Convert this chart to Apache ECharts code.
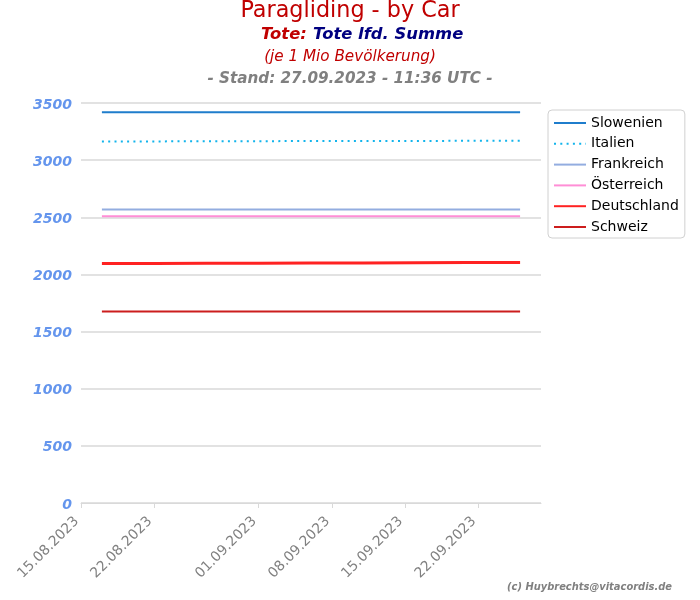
<!DOCTYPE html>
<html><head><meta charset="utf-8">
<script src="https://cdn.jsdelivr.net/npm/echarts@6/dist/echarts.min.js"></script>
<style>html,body{margin:0;padding:0;background:#fff}#c{width:700px;height:600px}</style>
</head><body><div id="c"></div>
<script>
const dates = ['2023-08-17','2023-08-22','2023-08-27','2023-09-01','2023-09-06','2023-09-11','2023-09-16','2023-09-21','2023-09-26'];
const tickDates = ['2023-08-15','2023-08-22','2023-09-01','2023-09-08','2023-09-15','2023-09-22'];
const seriesNames = ['Slowenien','Italien','Frankreich','Österreich','Deutschland','Schweiz'];
const slowenien   = [3418,3418,3418,3418,3418,3418,3418,3418,3418];
const italien     = [3164,3164,3165,3166,3167,3167,3168,3169,3170];
const frankreich  = [2569,2569,2569,2569,2569,2569,2569,2569,2569];
const oesterreich = [2508,2508,2508,2508,2508,2508,2508,2508,2508];
const deutschland = [2096,2096,2097,2098,2099,2100,2102,2104,2105];
const schweiz     = [1676,1676,1676,1676,1676,1676,1676,1676,1676];

const ts = d => { const [y,m,dd] = d.split('-').map(Number); return Date.UTC(y,m-1,dd); };
const pad = n => (n<10?'0':'')+n;
const fmt = v => { const d = new Date(v); return pad(d.getUTCDate())+'.'+pad(d.getUTCMonth()+1)+'.'+d.getUTCFullYear(); };

const values = [slowenien, italien, frankreich, oesterreich, deutschland, schweiz];
const colors = ['#1f7dcc','#12b4ec','#93ade0','#ff8ed6','#ff2222','#cc1d1d'];
const widths = [2,2,2,2,3,2];
const types  = ['solid',[2,4.3],'solid','solid','solid','solid'];

const chart = echarts.init(document.getElementById('c'));
const F = 'DejaVu Sans';
chart.setOption({
  animation:false,
  textStyle:{fontFamily:F},
  title:[
    {text:'Paragliding - by Car', left:'center', top:0, padding:0,
     textStyle:{fontFamily:F, fontSize:22.3, fontWeight:'normal', color:'#c00000'}},
    {text:'{a|Tote:} {b|Tote lfd. Summe}', left:261, top:26, padding:0,
     textStyle:{rich:{a:{fontFamily:F,fontSize:16.4,fontWeight:'bold',fontStyle:'italic',color:'#c00000'},
                      b:{fontFamily:F,fontSize:16.4,fontWeight:'bold',fontStyle:'italic',color:'#000080'}}}},
    {text:'(je 1 Mio Bevölkerung)', left:'center', top:50, padding:0,
     textStyle:{fontFamily:F, fontSize:15.2, fontWeight:'normal', fontStyle:'italic', color:'#c00000'}},
    {text:'- Stand: 27.09.2023 - 11:36 UTC -', left:'center', top:72, padding:0,
     textStyle:{fontFamily:F, fontSize:15.2, fontWeight:'bold', fontStyle:'italic', color:'#808080'}},
    {text:'(c) Huybrechts@vitacordis.de', right:28, top:582, padding:0,
     textStyle:{fontFamily:'DejaVu Sans Condensed', fontSize:11, fontWeight:'bold', fontStyle:'italic', color:'#808080'}}
  ],
  legend:{
    orient:'vertical', left:548, top:110, padding:[6,6,4,5],
    itemWidth:32, itemHeight:12, itemGap:6.8,
    borderColor:'#d0d0d0', borderWidth:1, borderRadius:4,
    backgroundColor:'#fff',
    itemStyle:{opacity:0},
    textStyle:{fontFamily:F, fontSize:14, color:'#000'},
    data:seriesNames
  },
  grid:{left:81, right:159, top:103, bottom:97, containLabel:false},
  xAxis:{
    type:'value', min:ts('2023-08-15'), max:ts('2023-09-28'), scale:true,
    axisLine:{show:true, lineStyle:{color:'#d9d9d9', width:1}},
    axisTick:{show:true, length:5, lineStyle:{color:'#d9d9d9'}, customValues:tickDates.map(ts)},
    axisLabel:{rotate:45, color:'#808080', fontSize:14, fontFamily:F, margin:12, padding:[0,6,0,0],
               customValues:tickDates.map(ts), formatter:v=>fmt(v)},
    splitLine:{show:false}
  },
  yAxis:{
    type:'value', min:0, max:3500, interval:500,
    axisLine:{show:false}, axisTick:{show:false},
    axisLabel:{color:'#6495ed', fontSize:14, fontWeight:'bold', fontStyle:'italic', fontFamily:F, margin:9,
               formatter:v=>'{v|'+v+'}',
               rich:{v:{color:'#6495ed', fontSize:14, fontWeight:'bold', fontStyle:'italic', fontFamily:F, padding:[4,0,0,0]}}},
    splitLine:{lineStyle:{color:'#d9d9d9', width:1.5}}
  },
  series: seriesNames.map((n,i)=>({
    name:n, type:'line', symbol:'none', showSymbol:false,
    data: dates.map((d,j)=>[ts(d), values[i][j]]),
    lineStyle:{color:colors[i], width:widths[i], type:types[i]},
    itemStyle:{color:colors[i]},
    z: 10-i
  }))
});
</script></body></html>
